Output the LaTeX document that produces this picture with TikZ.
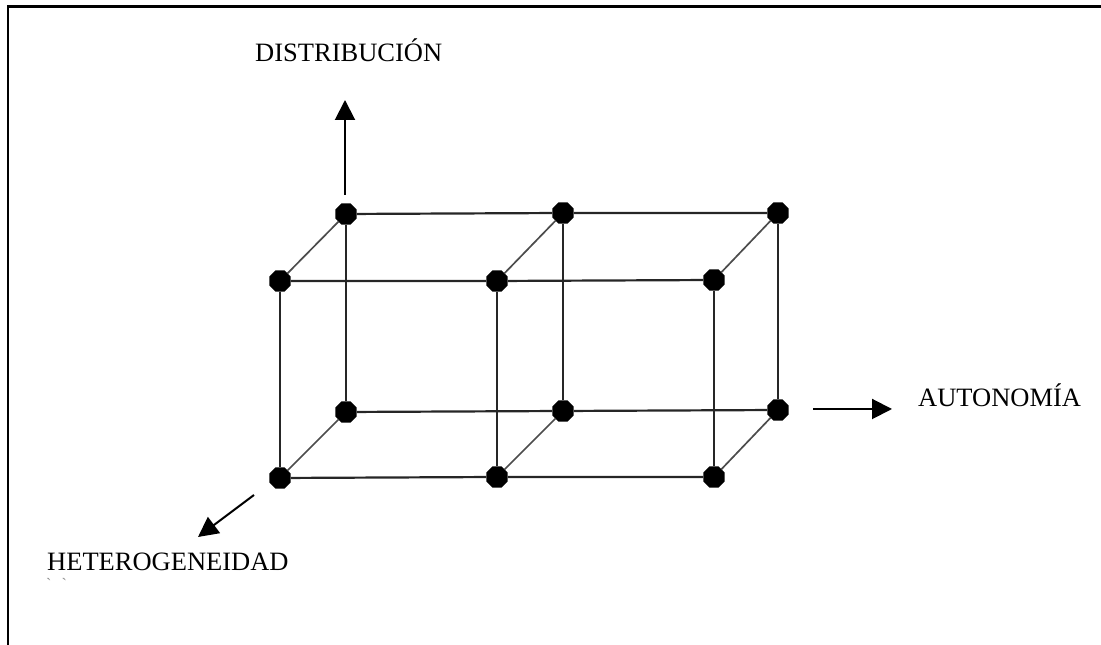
\documentclass[tikz,border=0pt]{standalone}
\usepackage{fontspec}
\setmainfont{Liberation Serif}
\usetikzlibrary{arrows.meta,shapes.geometric,backgrounds}

\tikzset{
  vertex/.style={regular polygon, regular polygon sides=8, fill=black,
    inner sep=0pt, minimum size=23bp},
  edge/.style={draw=black!85, line width=2.2bp},
  depth/.style={draw=black!70, line width=1.7bp},
  axis/.style={draw=black, line width=2bp,
    -{Triangle[length=20bp,width=20bp]}},
  label/.style={anchor=base west, inner sep=0pt, font=\fontsize{26.5bp}{30bp}\selectfont},
  frame/.style={draw=black, line width=2.4bp}
}

\begin{document}
\begin{tikzpicture}[x=1bp,y=1bp]
  \useasboundingbox (0,0) rectangle (1101,645);

  % page frame (top and left rules)
  \coordinate (fTL) at (8,638.5);
  \coordinate (fTR) at (1101,638.5);
  \coordinate (fBL) at (8,0);
  \draw[frame] (fTR) -- (fTL) -- (fBL);

  % back face vertices
  \node[vertex] (b1) at (346,431) {};
  \node[vertex] (b2) at (563,432) {};
  \node[vertex] (b3) at (778,432) {};
  \node[vertex] (b4) at (346,233) {};
  \node[vertex] (b5) at (563,234) {};
  \node[vertex] (b6) at (778,235) {};
  % front face vertices
  \node[vertex] (f1) at (280,364) {};
  \node[vertex] (f2) at (497,364) {};
  \node[vertex] (f3) at (714,365) {};
  \node[vertex] (f4) at (280,167) {};
  \node[vertex] (f5) at (497,168) {};
  \node[vertex] (f6) at (714,168) {};

  \begin{scope}[on background layer]
    % back face
    \draw[edge] (b1) -- (b2) -- (b3);
    \draw[edge] (b4) -- (b5) -- (b6);
    \draw[edge] (b1) -- (b4);
    \draw[edge] (b2) -- (b5);
    \draw[edge] (b3) -- (b6);
    % front face
    \draw[edge] (f1) -- (f2) -- (f3);
    \draw[edge] (f4) -- (f5) -- (f6);
    \draw[edge] (f1) -- (f4);
    \draw[edge] (f2) -- (f5);
    \draw[edge] (f3) -- (f6);
    % depth edges
    \draw[depth] (f1) -- (b1);
    \draw[depth] (f2) -- (b2);
    \draw[depth] (f3) -- (b3);
    \draw[depth] (f4) -- (b4);
    \draw[depth] (f5) -- (b5);
    \draw[depth] (f6) -- (b6);
  \end{scope}

  % axes
  \coordinate (dS) at (345,450);
  \coordinate (dE) at (345,545);
  \draw[axis] (dS) -- (dE);
  \coordinate (aS) at (813,236);
  \coordinate (aE) at (892,236);
  \draw[axis] (aS) -- (aE);
  \coordinate (hS) at (254,150);
  \coordinate (hE) at (198,108);
  \draw[axis] (hS) -- (hE);

  % axis labels
  \node[label] (dist) at (255,583) {DISTRIBUCIÓN};
  \node[label] (auto) at (918,238) {AUTONOMÍA};
  \node[label] (hete) at (47,74) {HETEROGENEIDAD};
  \node[anchor=base west, inner sep=0pt, text=black!45,
    font=\fontsize{16bp}{18bp}\selectfont] (marks) at (46,55)
    {\textasciigrave\hspace{10bp}\textasciigrave};
\end{tikzpicture}
\end{document}
